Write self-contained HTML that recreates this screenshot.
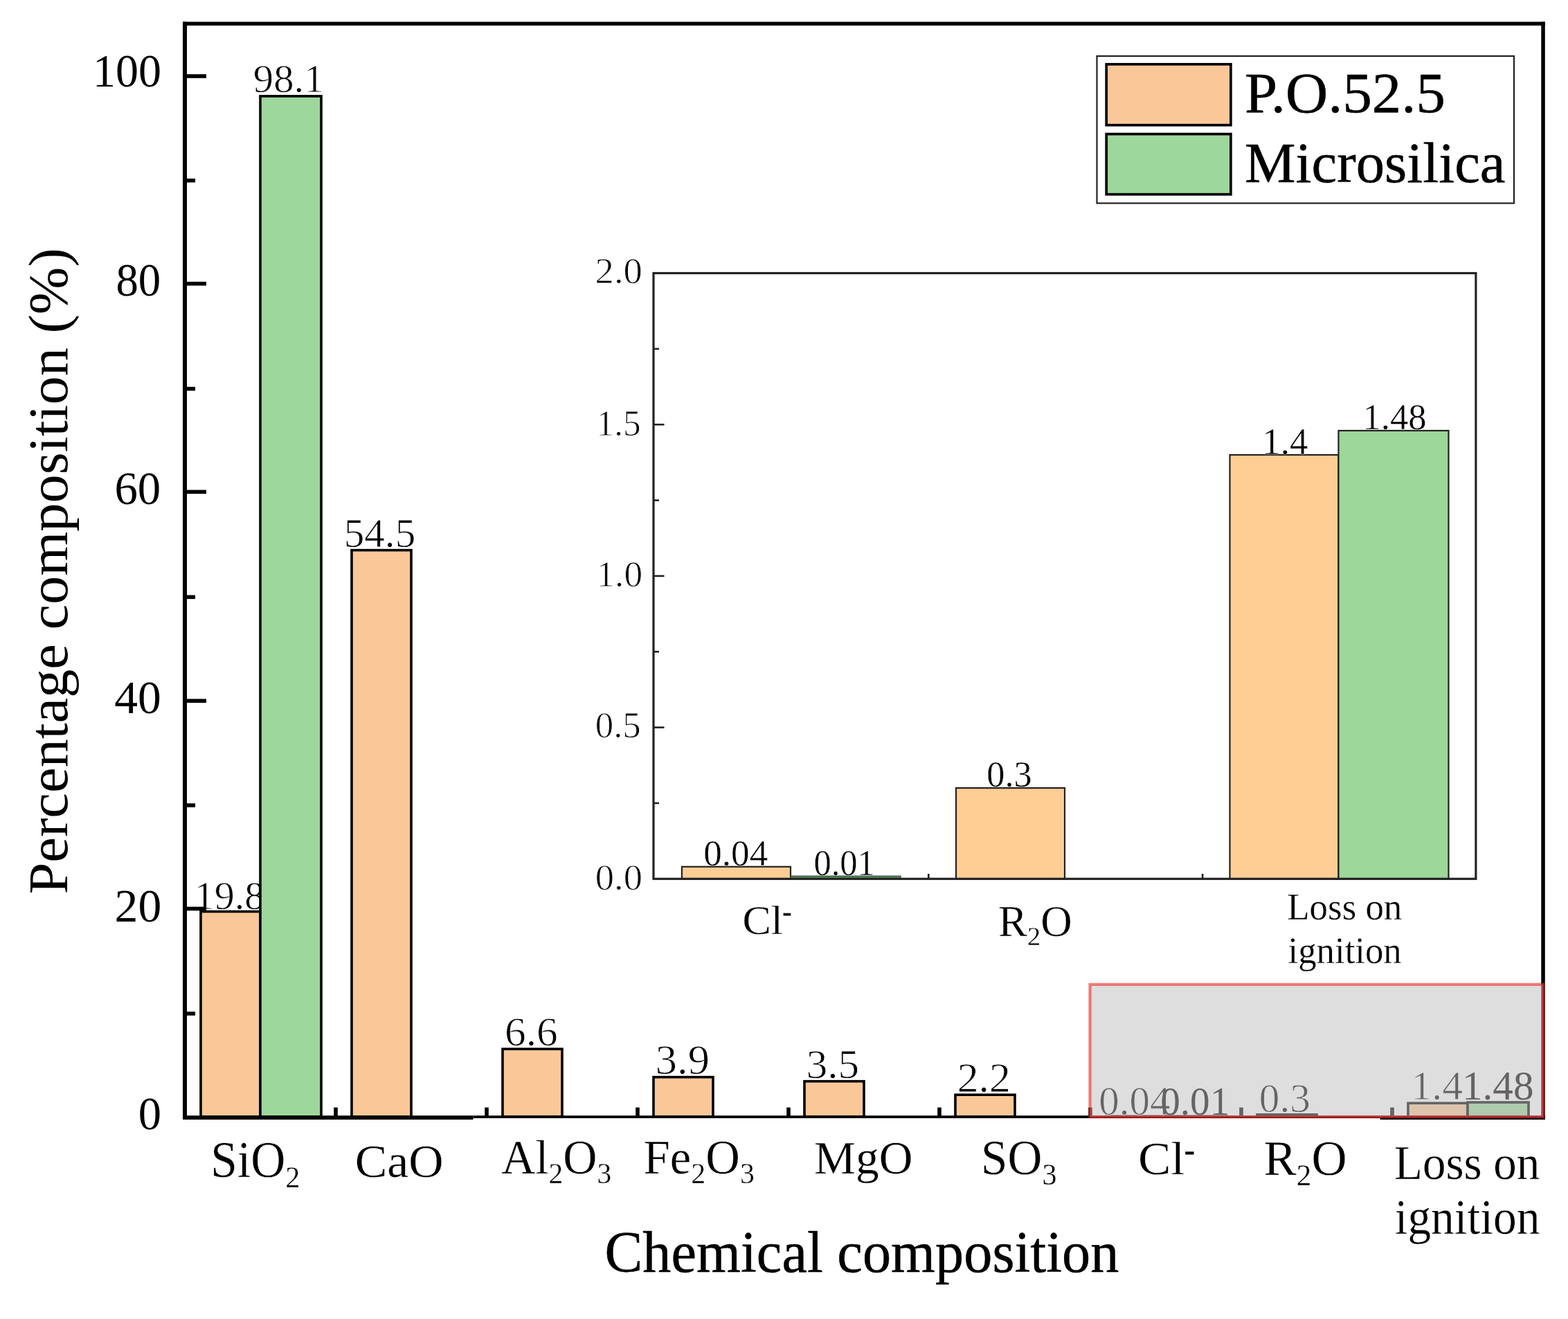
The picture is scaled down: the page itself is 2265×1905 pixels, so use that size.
<!DOCTYPE html>
<html><head><meta charset="utf-8"><title>Chemical composition</title>
<style>html,body{margin:0;padding:0;background:#fff;}svg{display:block;}</style></head>
<body>
<svg width="2265" height="1905" viewBox="0 0 2265 1905" font-family="'Liberation Serif', serif">
<rect x="0" y="0" width="2265" height="1905" fill="#fff"/>
<rect x="290" y="1316.51" width="86" height="296.29" fill="#FAC898" stroke="#000" stroke-width="3.6"/>
<rect x="508" y="794.62" width="86" height="818.18" fill="#FAC898" stroke="#000" stroke-width="3.6"/>
<rect x="726" y="1515.04" width="86" height="97.76" fill="#FAC898" stroke="#000" stroke-width="3.6"/>
<rect x="944" y="1555.64" width="86" height="57.16" fill="#FAC898" stroke="#000" stroke-width="3.6"/>
<rect x="1162" y="1561.66" width="86" height="51.14" fill="#FAC898" stroke="#000" stroke-width="3.6"/>
<rect x="1380" y="1581.21" width="86" height="31.59" fill="#FAC898" stroke="#000" stroke-width="3.6"/>
<rect x="1598" y="1612.3" width="86" height="0.5" fill="#FAC898" stroke="#000" stroke-width="3.6"/>
<rect x="1816" y="1609.79" width="86" height="3.01" fill="#FAC898" stroke="#000" stroke-width="3.6"/>
<rect x="2034" y="1593.24" width="86" height="19.56" fill="#FAC898" stroke="#000" stroke-width="3.6"/>
<g>
<text transform="translate(280.72,1312.84) scale(0.5809,0.5809)" font-size="100" stroke="#fff" stroke-width="1.377">19.8</text>
<text transform="translate(496.65,790.1) scale(0.5921,0.5970)" font-size="100" fill="#000" stroke="#fff" stroke-width="1.346">54.5</text>
<text transform="translate(729.04,1509.93) scale(0.6144,0.5838)" font-size="100" fill="#000" stroke="#fff" stroke-width="1.335">6.6</text>
<text transform="translate(946.77,1551) scale(0.6250,0.6045)" font-size="100" fill="#000" stroke="#fff" stroke-width="1.301">3.9</text>
<text transform="translate(1164.64,1557) scale(0.6112,0.6015)" font-size="100" fill="#000" stroke="#fff" stroke-width="1.319">3.5</text>
<text transform="translate(1382.63,1577) scale(0.6181,0.6045)" font-size="100" fill="#000" stroke="#fff" stroke-width="1.309">2.2</text>
<text transform="translate(1587.34,1609.74) scale(0.5893,0.5809)" font-size="100" fill="#000" stroke="#fff" stroke-width="1.367">0.04</text>
<text transform="translate(1818.83,1606.42) scale(0.5923,0.5897)" font-size="100" fill="#000" stroke="#fff" stroke-width="1.354">0.3</text>
<text transform="translate(2038.54,1588.31) scale(0.5956,0.5925)" font-size="100" fill="#000" stroke="#fff" stroke-width="1.347">1.4</text>
</g>
<rect x="376" y="138.88" width="88" height="1473.92" fill="#9DD79B" stroke="#000" stroke-width="3.6"/>
<rect x="1684" y="1612.3" width="88" height="0.5" fill="#9DD79B" stroke="#000" stroke-width="3.6"/>
<rect x="2120" y="1592.04" width="88" height="20.76" fill="#9DD79B" stroke="#000" stroke-width="3.6"/>
<text transform="translate(365.84,133.24) scale(0.5861,0.5794)" font-size="100" fill="#000" stroke="#fff" stroke-width="1.373">98.1</text>
<text transform="translate(1676.21,1609.74) scale(0.5715,0.5809)" font-size="100" fill="#000">0.01</text>
<text transform="translate(2111.98,1587.73) scale(0.5914,0.5838)" font-size="100" fill="#000">1.48</text>
<g fill="#000">
<rect x="264" y="31.5" width="1968" height="5.4"/>
<rect x="264" y="31.5" width="6" height="1585.5"/>
<rect x="2226.3" y="31.5" width="5.5" height="1585.5"/>
<rect x="264" y="1611.2" width="419.5" height="5.8"/>
<rect x="683.5" y="1611.2" width="1310" height="3.8"/>
<rect x="1993.5" y="1611.2" width="238.3" height="5.8"/>
<rect x="268" y="107.2" width="30" height="5.6"/>
<rect x="268" y="406.9" width="30" height="5.6"/>
<rect x="268" y="707.6" width="30" height="5.6"/>
<rect x="268" y="1009.4" width="30" height="5.6"/>
<rect x="268" y="1309.6" width="30" height="5.6"/>
<rect x="268" y="257.9" width="14" height="5.6"/>
<rect x="268" y="558.7" width="14" height="5.6"/>
<rect x="268" y="859.5" width="14" height="5.6"/>
<rect x="268" y="1160.3" width="14" height="5.6"/>
<rect x="268" y="1461.1" width="14" height="5.6"/>
<rect x="482.2" y="1599.5" width="5.6" height="13"/>
<rect x="700.2" y="1599.5" width="5.6" height="13"/>
<rect x="918.2" y="1599.5" width="5.6" height="13"/>
<rect x="1136.2" y="1599.5" width="5.6" height="13"/>
<rect x="1354.2" y="1599.5" width="5.6" height="13"/>
<rect x="1572.2" y="1599.5" width="5.6" height="13"/>
<rect x="1790.2" y="1599.5" width="5.6" height="13"/>
<rect x="2008.2" y="1599.5" width="5.6" height="13"/>
</g>
<text transform="translate(134.05,125.36) scale(0.6606,0.6676)" font-size="100" fill="#000">100</text>
<text transform="translate(167.41,427.37) scale(0.6478,0.6662)" font-size="100" fill="#000">80</text>
<text transform="translate(165.43,727.55) scale(0.6685,0.6735)" font-size="100" fill="#000">60</text>
<text transform="translate(165.15,1029.66) scale(0.6766,0.6721)" font-size="100" fill="#000">40</text>
<text transform="translate(165.56,1330.75) scale(0.6765,0.6765)" font-size="100" fill="#000">20</text>
<text transform="translate(199.86,1630.67) scale(0.6662,0.6662)" font-size="100" fill="#000">0</text>
<text transform="translate(304.35,1699.8) scale(0.6932,0.7333)" font-size="100" fill="#000" stroke="#fff" stroke-width="0.421">SiO<tspan font-size="61" dy="21">2</tspan></text>
<text transform="translate(512.81,1699.66) scale(0.6977,0.6721)" font-size="100" fill="#000" stroke="#fff" stroke-width="0.438">CaO</text>
<text transform="translate(724.32,1694.89) scale(0.6813,0.6912)" font-size="100" fill="#000" stroke="#fff" stroke-width="0.437">Al<tspan font-size="61" dy="21">2</tspan><tspan dy="-21">O</tspan><tspan font-size="61" dy="21">3</tspan></text>
<text transform="translate(929.54,1694.82) scale(0.6873,0.6943)" font-size="100" fill="#000" stroke="#fff" stroke-width="0.434">Fe<tspan font-size="61" dy="21">2</tspan><tspan dy="-21">O</tspan><tspan font-size="61" dy="21">3</tspan></text>
<text transform="translate(1175.97,1694.71) scale(0.6750,0.6851)" font-size="100" fill="#000" stroke="#fff" stroke-width="0.441">MgO</text>
<text transform="translate(1417.06,1695.85) scale(0.6913,0.7159)" font-size="100" fill="#000" stroke="#fff" stroke-width="0.426">SO<tspan font-size="61" dy="21">3</tspan></text>
<text transform="translate(1644.06,1695.63) scale(0.7101,0.6831)" font-size="100" fill="#000" stroke="#fff" stroke-width="0.431">Cl<tspan font-size="60" dy="-30" stroke="#000" stroke-width="1.8">-</tspan></text>
<text transform="translate(1825.57,1697.03) scale(0.7086,0.7126)" font-size="100" fill="#000" stroke="#fff" stroke-width="0.422">R<tspan font-size="61" dy="21">2</tspan><tspan dy="-21">O</tspan></text>
<text transform="translate(2013.99,1703.3) scale(0.6700,0.7015)" font-size="100" fill="#000" stroke="#fff" stroke-width="0.437">Loss on</text>
<text transform="translate(2014.65,1781.86) scale(0.6744,0.7116)" font-size="100" fill="#000" stroke="#fff" stroke-width="0.433">ignition</text>
<text transform="translate(873.41,1837.41) scale(0.8231,0.8567)" font-size="100" fill="#000" stroke="#000" stroke-width="0.595" stroke-linejoin="round">Chemical composition</text>
<text transform="translate(96.78,1291.47) rotate(-90) scale(0.8240,0.8011)" font-size="100" fill="#000">Percentage composition (%)</text>
<rect x="1584.5" y="81" width="602.5" height="212.5" fill="#fff" stroke="#222" stroke-width="2.2"/>
<rect x="1598.2" y="92.8" width="179.7" height="87.9" fill="#FAC898" stroke="#000" stroke-width="3.7"/>
<rect x="1598.2" y="193.6" width="179.7" height="87.1" fill="#9DD79B" stroke="#000" stroke-width="3.7"/>
<text transform="translate(1797.95,161.74) scale(0.8484,0.8324)" font-size="100" fill="#000" stroke="#000" stroke-width="0.595" stroke-linejoin="round">P.O.52.5</text>
<text transform="translate(1798.02,262.77) scale(0.8268,0.8314)" font-size="100" fill="#000" stroke="#000" stroke-width="0.603" stroke-linejoin="round">Microsilica</text>
<rect x="985" y="1251.8" width="157" height="17.5" fill="#FFCE94" stroke="#222" stroke-width="2.2"/>
<rect x="1381" y="1138.08" width="157" height="131.22" fill="#FFCE94" stroke="#222" stroke-width="2.2"/>
<rect x="1776.5" y="656.94" width="157" height="612.36" fill="#FFCE94" stroke="#222" stroke-width="2.2"/>
<rect x="1142" y="1265.2" width="159" height="4" fill="#5a8a5a" stroke="#2e4a2e" stroke-width="1.2"/>
<rect x="1933.5" y="621.95" width="159" height="647.35" fill="#9DD79A" stroke="#222" stroke-width="2.2"/>
<rect x="944" y="394.5" width="1187.9" height="874.8" fill="none" stroke="#222" stroke-width="3.2"/>
<g fill="#222">
<rect x="945" y="611.9" width="14.5" height="2.6"/>
<rect x="945" y="830.6" width="14.5" height="2.6"/>
<rect x="945" y="1049.3" width="14.5" height="2.6"/>
<rect x="945" y="502.55" width="7" height="2.6"/>
<rect x="945" y="721.25" width="7" height="2.6"/>
<rect x="945" y="939.95" width="7" height="2.6"/>
<rect x="945" y="1158.65" width="7" height="2.6"/>
<rect x="1340" y="1262" width="2.6" height="7"/>
<rect x="1735.8" y="1262" width="2.6" height="7"/>
</g>
<text transform="translate(859.51,409.36) scale(0.5479,0.5206)" font-size="100" fill="#000" stroke="#fff" stroke-width="1.685">2.0</text>
<text transform="translate(861.58,628.57) scale(0.5134,0.5284)" font-size="100" fill="#000" stroke="#fff" stroke-width="1.728">1.5</text>
<text transform="translate(861.39,846.76) scale(0.5339,0.5206)" font-size="100" fill="#000" stroke="#fff" stroke-width="1.707">1.0</text>
<text transform="translate(859.68,1065.36) scale(0.5291,0.5206)" font-size="100" fill="#000" stroke="#fff" stroke-width="1.715">0.5</text>
<text transform="translate(859.72,1285.23) scale(0.5462,0.5338)" font-size="100" fill="#000" stroke="#fff" stroke-width="1.667">0.0</text>
<text transform="translate(1016.17,1250.25) scale(0.5320,0.5265)" font-size="100" fill="#000" stroke="#fff" stroke-width="0.756">0.04</text>
<text transform="translate(1175.38,1263.85) scale(0.5055,0.5265)" font-size="100" fill="#000" stroke="#fff" stroke-width="0.775">0.01</text>
<text transform="translate(1425.31,1136.15) scale(0.5231,0.5250)" font-size="100" fill="#000" stroke="#fff" stroke-width="0.763">0.3</text>
<text transform="translate(1823.36,655.56) scale(0.5272,0.5388)" font-size="100" fill="#000" stroke="#fff" stroke-width="0.750">1.4</text>
<text transform="translate(1968.57,619.96) scale(0.5253,0.5206)" font-size="100" fill="#000" stroke="#fff" stroke-width="0.765">1.48</text>
<text transform="translate(1072.43,1349.32) scale(0.6183,0.5915)" font-size="100" fill="#000" stroke="#fff" stroke-width="0.496">Cl<tspan font-size="60" dy="-35" stroke="#000" stroke-width="1.8">-</tspan></text>
<text transform="translate(1442.11,1351.55) scale(0.6290,0.6356)" font-size="100" fill="#000" stroke="#fff" stroke-width="0.474">R<tspan font-size="61" dy="21">2</tspan><tspan dy="-21">O</tspan></text>
<text transform="translate(1859.31,1328.05) scale(0.5290,0.5515)" font-size="100" fill="#000" stroke="#fff" stroke-width="0.555">Loss on</text>
<text transform="translate(1860.54,1391.25) scale(0.5279,0.5500)" font-size="100" fill="#000" stroke="#fff" stroke-width="0.557">ignition</text>
<rect x="1574.5" y="1421.8" width="654.5" height="191.3" fill="rgb(192,192,192)" fill-opacity="0.52" stroke="rgb(240,40,40)" stroke-opacity="0.6" stroke-width="4.2"/>
</svg>
</body></html>
